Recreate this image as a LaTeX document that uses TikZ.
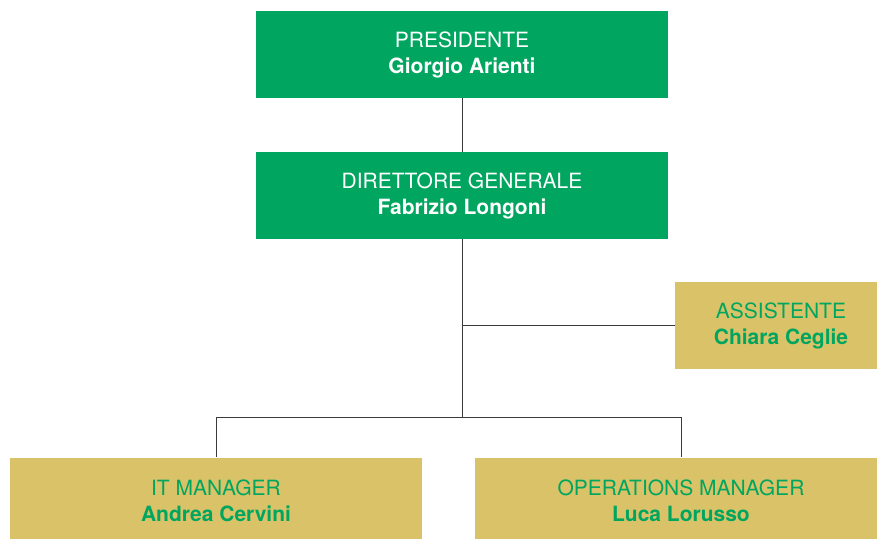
\documentclass[tikz,border=0pt]{standalone}
\usepackage{fontspec}
\setmainfont{TeX Gyre Heros}
\usetikzlibrary{positioning}
\definecolor{orggreen}{HTML}{00A65F}
\definecolor{orggold}{HTML}{D9C267}
\definecolor{orgline}{HTML}{3A3A3A}

\begin{document}
\begin{tikzpicture}[x=0.5pt,y=-0.5pt,
		greenbox/.style={fill=orggreen, text=white, minimum width=206pt, minimum height=43.5pt, align=center, inner sep=0pt, font=\fontsize{10.5}{13}\selectfont},
		goldbox/.style={greenbox, fill=orggold, text=orggreen},
		link/.style={draw=orgline, line width=0.5pt}]
		\useasboundingbox (0,0) rectangle (877,538);
		\coordinate (p) at (462,54.5);
		\coordinate (d) at (462,195.5);
		\coordinate (s) at (781,325.5);
		\coordinate (i) at (216,501);
		\coordinate (o) at (681,501);
		\coordinate (branch) at (462,417);

		\node[greenbox] (pres) at (p) {PRESIDENTE\\\textbf{Giorgio Arienti}};
		\node[greenbox] (dir) at (d) {DIRETTORE GENERALE\\\textbf{Fabrizio Longoni}};
		\node[goldbox, minimum width=106pt] (ass) at (s) {ASSISTENTE\\\textbf{Chiara Ceglie}};
		\node[goldbox] (itm) at (i) {IT MANAGER\\\textbf{Andrea Cervini}};
		\node[goldbox] (ops) at (o) {OPERATIONS MANAGER\\\textbf{Luca Lorusso}};

		\draw[link] (pres) -- (dir);
		\draw[link] (dir) -- (branch);
		\draw[link] (ass.west) -- (ass.west -| dir); % side branch
		\draw[link] (itm.north) -- (itm.north |- branch) -| (ops.north);
	\end{tikzpicture}
\end{document}
